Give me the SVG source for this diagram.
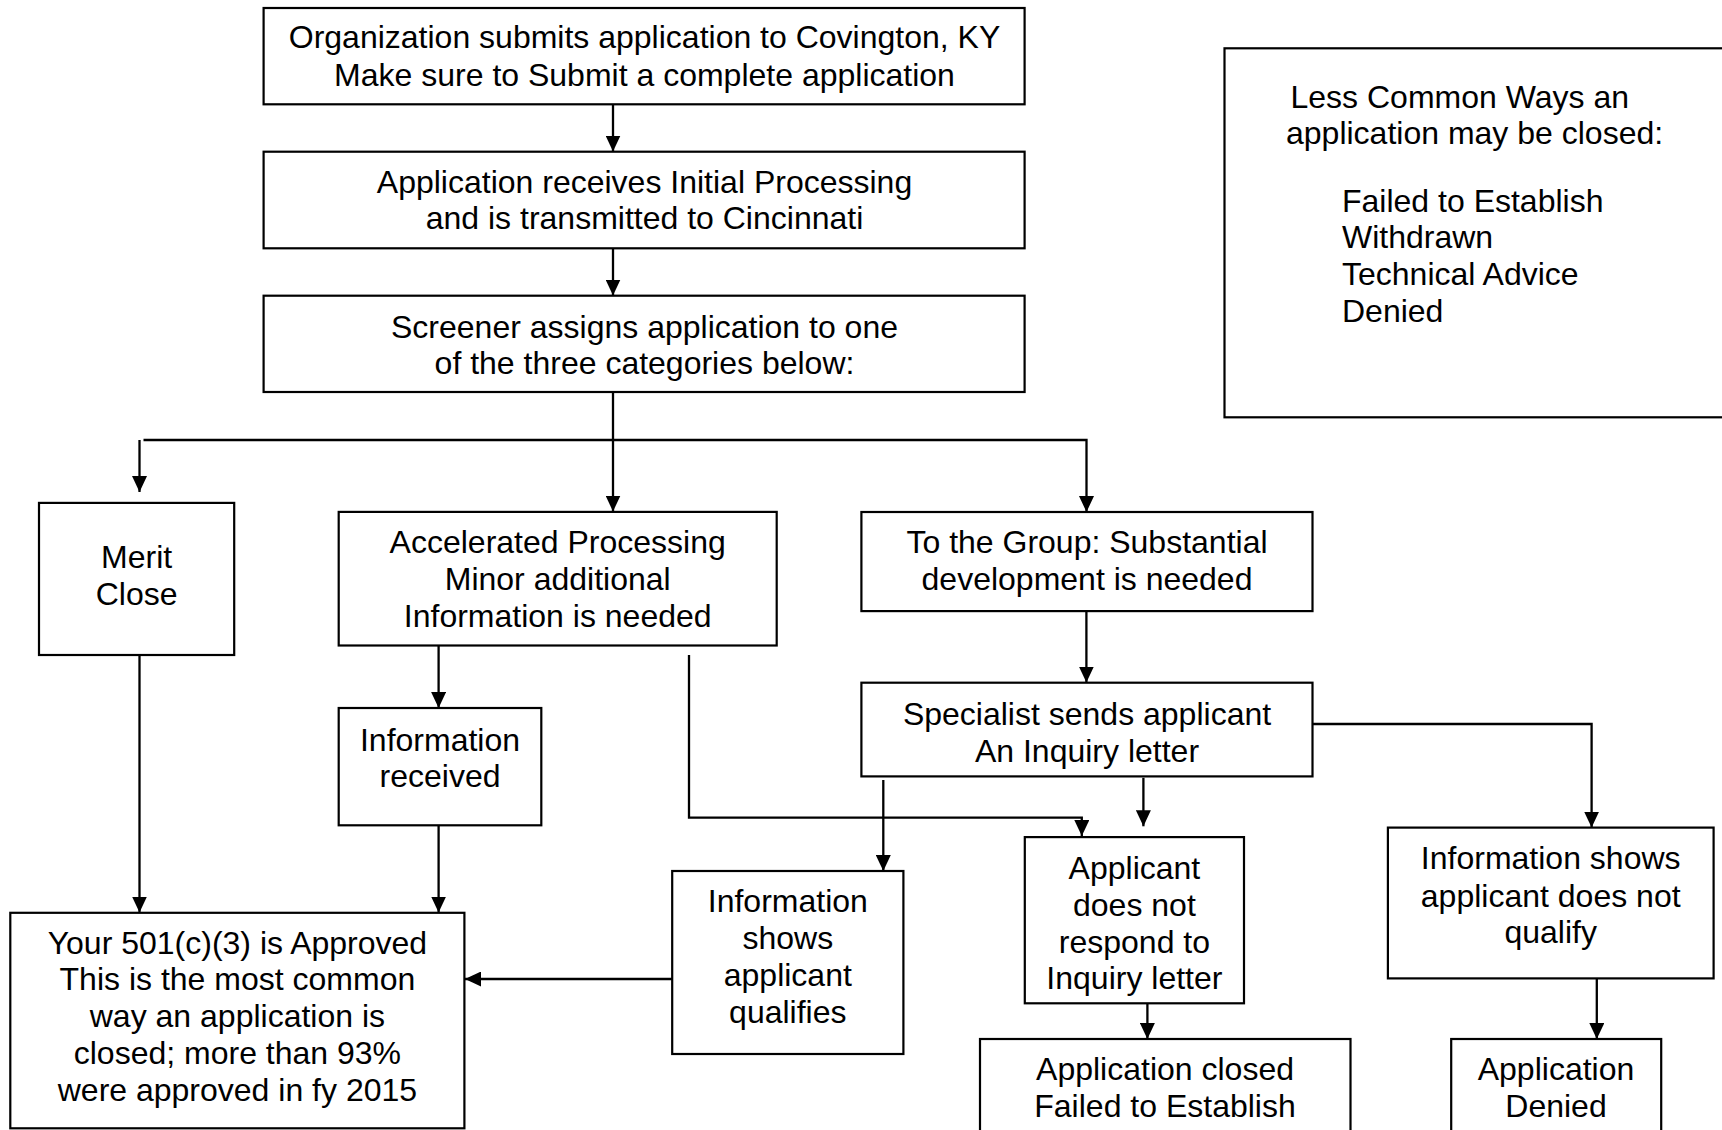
<svg xmlns="http://www.w3.org/2000/svg" width="1722" height="1130" viewBox="0 0 1722 1130">
<defs>
<style>
.box{fill:#fff;stroke:#000;stroke-width:2.2}
.t{font-family:"Liberation Sans",Arial,sans-serif;font-size:32px;fill:#000;text-anchor:middle}
.tl{font-family:"Liberation Sans",Arial,sans-serif;font-size:32px;fill:#000}
.c{fill:none;stroke:#000;stroke-width:2.3}
</style>
<marker id="ah" markerUnits="userSpaceOnUse" markerWidth="16" markerHeight="15" refX="16" refY="7.5" orient="auto">
<path d="M0,0 L16,7.5 L0,15 z" fill="#000"/>
</marker>
</defs>
<rect width="1722" height="1130" fill="#fff"/>
<g id="connectors">
<path class="c" d="M613,104 V151.5" marker-end="url(#ah)"/>
<path class="c" d="M613,248 V295.5" marker-end="url(#ah)"/>
<path class="c" d="M613,392 V511.5" marker-end="url(#ah)"/>
<path class="c" d="M143.5,440 H1086.5 V512" marker-end="url(#ah)"/>
<path class="c" d="M139.5,440 V492" marker-end="url(#ah)"/>
<path class="c" d="M139.5,655 V912.5" marker-end="url(#ah)"/>
<path class="c" d="M438.6,645.5 V708" marker-end="url(#ah)"/>
<path class="c" d="M438.6,825.3 V912.5" marker-end="url(#ah)"/>
<path class="c" d="M672.2,979 H465" marker-end="url(#ah)"/>
<path class="c" d="M689,655 V817.6 H1081.8 V836" marker-end="url(#ah)"/>
<path class="c" d="M1086.4,611 V682.5" marker-end="url(#ah)"/>
<path class="c" d="M883.3,780 V871" marker-end="url(#ah)"/>
<path class="c" d="M1143.4,777.8 V826.3" marker-end="url(#ah)"/>
<path class="c" d="M1147.4,1003.3 V1039" marker-end="url(#ah)"/>
<path class="c" d="M1308,724 H1591.6 V827.6" marker-end="url(#ah)"/>
<path class="c" d="M1596.8,978.4 V1039" marker-end="url(#ah)"/>
</g>
<g id="submit">
<rect class="box" x="263.6" y="8" width="761" height="96.3"/>
<text class="t" x="644.5" y="48">Organization submits application to Covington, KY</text>
<text class="t" x="644.5" y="85.5">Make sure to Submit a complete application</text>
</g>
<g id="initial">
<rect class="box" x="263.6" y="151.7" width="761" height="96.6"/>
<text class="t" x="644.5" y="192.5">Application receives Initial Processing</text>
<text class="t" x="644.5" y="229"> and is transmitted to Cincinnati</text>
</g>
<g id="screener">
<rect class="box" x="263.6" y="295.7" width="761" height="96.3"/>
<text class="t" x="644.5" y="337.5">Screener assigns application to one</text>
<text class="t" x="644.5" y="374"> of the three categories below:</text>
</g>
<g id="lesscommon">
<rect class="box" x="1224.5" y="48.3" width="510" height="369"/>
<text class="tl" x="1290.5" y="108"> Less Common Ways an</text>
<text class="tl" x="1286" y="144">application may be closed:</text>
<text class="tl" x="1342" y="211.5">Failed to Establish</text>
<text class="tl" x="1342" y="248">Withdrawn</text>
<text class="tl" x="1342" y="285">Technical Advice</text>
<text class="tl" x="1342" y="321.5">Denied</text>
</g>
<g id="merit">
<rect class="box" x="39" y="502.9" width="195.2" height="152.1"/>
<text class="t" x="136.6" y="568">Merit</text>
<text class="t" x="136.6" y="604.5">Close</text>
</g>
<g id="accelerated">
<rect class="box" x="338.7" y="511.9" width="438" height="133.6"/>
<text class="t" x="557.7" y="553">Accelerated Processing</text>
<text class="t" x="557.7" y="590">Minor additional</text>
<text class="t" x="557.7" y="626.5">Information is needed</text>
</g>
<g id="group">
<rect class="box" x="861.4" y="512" width="451.1" height="99.1"/>
<text class="t" x="1087" y="553">To the Group: Substantial</text>
<text class="t" x="1087" y="590">development is needed</text>
</g>
<g id="specialist">
<rect class="box" x="861.4" y="682.7" width="451.1" height="93.7"/>
<text class="t" x="1087" y="725">Specialist sends applicant</text>
<text class="t" x="1087" y="761.5">An Inquiry letter</text>
</g>
<g id="received">
<rect class="box" x="338.7" y="708" width="202.6" height="117.3"/>
<text class="t" x="440" y="750.5">Information</text>
<text class="t" x="440" y="787">received</text>
</g>
<g id="approved">
<rect class="box" x="10.3" y="912.8" width="454.1" height="215.5"/>
<text class="t" x="237.4" y="953.5">Your 501(c)(3) is Approved</text>
<text class="t" x="237.4" y="990">This is the most common</text>
<text class="t" x="237.4" y="1027">way an application is</text>
<text class="t" x="237.4" y="1063.5">closed; more than 93%</text>
<text class="t" x="237.4" y="1100.5">were approved in fy 2015</text>
</g>
<g id="qualifies">
<rect class="box" x="672.2" y="871" width="231.2" height="183"/>
<text class="t" x="787.8" y="912">Information</text>
<text class="t" x="787.8" y="949">shows</text>
<text class="t" x="787.8" y="985.5">applicant</text>
<text class="t" x="787.8" y="1022.5">qualifies</text>
</g>
<g id="noresponse">
<rect class="box" x="1024.8" y="837.1" width="219.2" height="166.2"/>
<text class="t" x="1134.4" y="879">Applicant</text>
<text class="t" x="1134.4" y="915.5">does not</text>
<text class="t" x="1134.4" y="952.5">respond to</text>
<text class="t" x="1134.4" y="989">Inquiry letter</text>
</g>
<g id="closed">
<rect class="box" x="980" y="1039" width="370.5" height="110"/>
<text class="t" x="1165" y="1080">Application closed</text>
<text class="t" x="1165" y="1117">Failed to Establish</text>
</g>
<g id="notqualify">
<rect class="box" x="1387.9" y="827.6" width="325.7" height="150.8"/>
<text class="t" x="1550.7" y="869">Information shows</text>
<text class="t" x="1550.7" y="906.5">applicant does not</text>
<text class="t" x="1550.7" y="943">qualify</text>
</g>
<g id="denied">
<rect class="box" x="1451.2" y="1039" width="210" height="110"/>
<text class="t" x="1556" y="1080">Application</text>
<text class="t" x="1556" y="1117">Denied</text>
</g>
</svg>
